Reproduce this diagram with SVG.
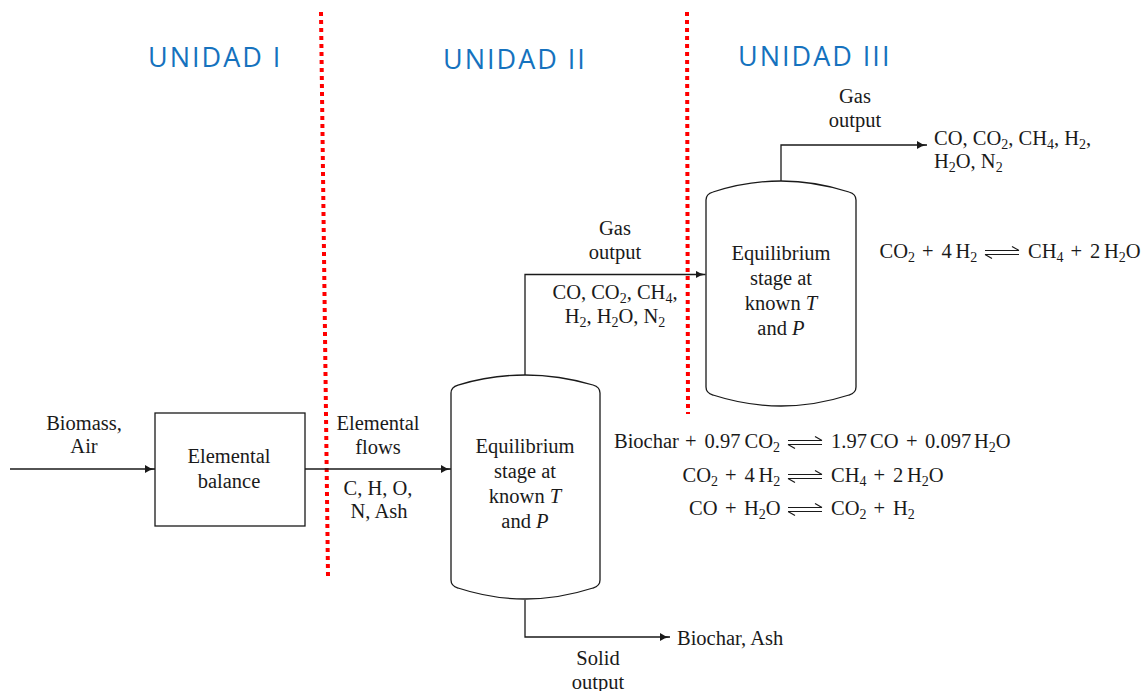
<svg xmlns="http://www.w3.org/2000/svg" xmlns:xlink="http://www.w3.org/1999/xlink" width="1145" height="691" viewBox="0 0 1145 691">
<style>
.t{font-family:"Liberation Serif","Times New Roman",serif;font-size:20.5px;fill:#1a1a1a}
.c{text-anchor:middle}
.sb{font-size:14px}
.it{font-style:italic}
.h{font-family:"Open Sans","Noto Sans",sans-serif;font-size:27px;fill:#1572be;letter-spacing:2px}
.ln{fill:none;stroke:#1a1a1a;stroke-width:1.3}
.arr{marker-end:url(#ah)}
.shape{fill:#ffffff;stroke:#1a1a1a;stroke-width:1.3}
.div{stroke:#ff0000;stroke-width:4;stroke-dasharray:4 4;fill:none}
</style>
<defs>
<marker id="ah" viewBox="0 0 10 8" refX="10" refY="4" markerWidth="10" markerHeight="8" markerUnits="userSpaceOnUse" orient="auto">
<path d="M0,0 Q4,3.2 10,4 Q4,4.8 0,8 z" fill="#1a1a1a"/>
</marker>
<g id="harp" fill="none" stroke="#1a1a1a" stroke-width="1.2">
<path d="M0,-2 H34 M34,-2 L27,-6 M34,2 H0 M0,2 L7,6"/>
</g>
</defs>
<rect width="1145" height="691" fill="#ffffff"/>

<g id="dividers">
<line class="div" x1="321" y1="12" x2="328" y2="576"/>
<line class="div" x1="687" y1="12" x2="688" y2="414"/>
</g>

<g id="titles">
<text class="h" x="148" y="67">UNIDAD I</text>
<text class="h" x="443" y="69">UNIDAD II</text>
<text class="h" x="738" y="66">UNIDAD III</text>
</g>

<g id="connectors">
<path class="ln arr" d="M10,469 H155"/>
<path class="ln arr" d="M305,469 H451"/>
<path class="ln arr" d="M525,375 V274.5 H705.5"/>
<path class="ln arr" d="M525,600 V637 H670"/>
<path class="ln arr" d="M781,181 V145 H927"/>
</g>

<g id="node-balance">
<rect class="shape" x="155" y="413" width="150" height="113"/>
<text class="t c" x="229" y="463">Elemental</text>
<text class="t c" x="229" y="488">balance</text>
</g>

<g id="node-stage1">
<path class="shape" d="M451,393 Q451,387 458,385 Q525,365 593,385 Q600,387 600,393 V580 Q600,586 593,588 Q525,610 458,588 Q451,586 451,580 Z"/>
<text class="t c" x="525" y="453">Equilibrium</text>
<text class="t c" x="525" y="478">stage at</text>
<text class="t c" x="525" y="503">known <tspan class="it">T</tspan></text>
<text class="t c" x="525" y="528">and <tspan class="it">P</tspan></text>
</g>

<g id="node-stage2">
<path class="shape" d="M706,200 Q706,194 713,192 Q781,170 849,192 Q856,194 856,200 V387 Q856,393 849,395 Q781,417 713,395 Q706,393 706,387 Z"/>
<text class="t c" x="781" y="260">Equilibrium</text>
<text class="t c" x="781" y="285">stage at</text>
<text class="t c" x="781" y="310">known <tspan class="it">T</tspan></text>
<text class="t c" x="781" y="335">and <tspan class="it">P</tspan></text>
</g>

<g id="labels">
<text class="t c" x="84" y="430">Biomass,</text>
<text class="t c" x="84" y="453">Air</text>
<text class="t c" x="378" y="430">Elemental</text>
<text class="t c" x="378" y="454">flows</text>
<text class="t c" x="378" y="495">C, H, O,</text>
<text class="t c" x="379" y="518">N, Ash</text>
<text class="t c" x="615" y="235">Gas</text>
<text class="t c" x="615" y="259">output</text>
<text class="t c" x="615" y="299">CO, CO<tspan class="sb" dy="4">2</tspan><tspan dy="-4">, CH</tspan><tspan class="sb" dy="4">4</tspan><tspan dy="-4">,</tspan></text>
<text class="t c" x="615" y="323">H<tspan class="sb" dy="4">2</tspan><tspan dy="-4">, H</tspan><tspan class="sb" dy="4">2</tspan><tspan dy="-4">O, N</tspan><tspan class="sb" dy="4">2</tspan></text>
<text class="t c" x="855" y="103">Gas</text>
<text class="t c" x="855" y="127">output</text>
<text class="t" x="934" y="145">CO, CO<tspan class="sb" dy="4">2</tspan><tspan dy="-4">, CH</tspan><tspan class="sb" dy="4">4</tspan><tspan dy="-4">, H</tspan><tspan class="sb" dy="4">2</tspan><tspan dy="-4">,</tspan></text>
<text class="t" x="934" y="168">H<tspan class="sb" dy="4">2</tspan><tspan dy="-4">O, N</tspan><tspan class="sb" dy="4">2</tspan></text>
<text class="t" x="677" y="645">Biochar, Ash</text>
<text class="t c" x="598" y="665">Solid</text>
<text class="t c" x="598" y="689">output</text>
</g>

<g id="equations">
<!-- line 1 -->
<text class="t" x="614" y="448">Biochar</text>
<text class="t" x="685" y="448">+</text>
<text class="t" x="704.5" y="448">0.97</text>
<text class="t" x="744.5" y="448">CO<tspan class="sb" dy="4">2</tspan></text>
<use xlink:href="#harp" href="#harp" x="788" y="442.5"/>
<text class="t" x="831" y="448">1.97</text>
<text class="t" x="870" y="448">CO</text>
<text class="t" x="906" y="448">+</text>
<text class="t" x="925" y="448">0.097</text>
<text class="t" x="974" y="448">H<tspan class="sb" dy="4">2</tspan><tspan dy="-4">O</tspan></text>
<!-- line 2 -->
<text class="t" x="682.5" y="482">CO<tspan class="sb" dy="4">2</tspan></text>
<text class="t" x="725" y="482">+</text>
<text class="t" x="744.5" y="482">4</text>
<text class="t" x="758.5" y="482">H<tspan class="sb" dy="4">2</tspan></text>
<use xlink:href="#harp" href="#harp" x="788" y="476.5"/>
<text class="t" x="831" y="482">CH<tspan class="sb" dy="4">4</tspan></text>
<text class="t" x="873.5" y="482">+</text>
<text class="t" x="893" y="482">2</text>
<text class="t" x="907" y="482">H<tspan class="sb" dy="4">2</tspan><tspan dy="-4">O</tspan></text>
<!-- line 3 -->
<text class="t" x="689" y="515">CO</text>
<text class="t" x="725" y="515">+</text>
<text class="t" x="744" y="515">H<tspan class="sb" dy="4">2</tspan><tspan dy="-4">O</tspan></text>
<use xlink:href="#harp" href="#harp" x="788" y="509.5"/>
<text class="t" x="831" y="515">CO<tspan class="sb" dy="4">2</tspan></text>
<text class="t" x="873.5" y="515">+</text>
<text class="t" x="893" y="515">H<tspan class="sb" dy="4">2</tspan></text>
<!-- unit III equation -->
<text class="t" x="879.5" y="258">CO<tspan class="sb" dy="4">2</tspan></text>
<text class="t" x="922" y="258">+</text>
<text class="t" x="941.5" y="258">4</text>
<text class="t" x="955.5" y="258">H<tspan class="sb" dy="4">2</tspan></text>
<use xlink:href="#harp" href="#harp" x="985" y="252.5"/>
<text class="t" x="1028" y="258">CH<tspan class="sb" dy="4">4</tspan></text>
<text class="t" x="1070.5" y="258">+</text>
<text class="t" x="1090" y="258">2</text>
<text class="t" x="1104" y="258">H<tspan class="sb" dy="4">2</tspan><tspan dy="-4">O</tspan></text>
</g>
</svg>
